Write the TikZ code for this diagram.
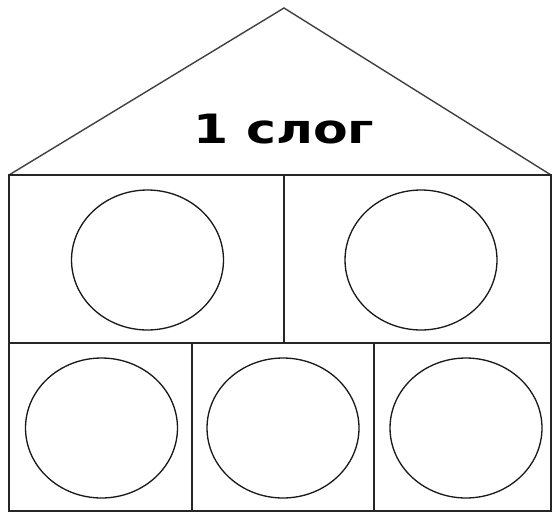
\documentclass[tikz,border=0pt]{standalone}
\usepackage{fontspec}
\usetikzlibrary{shapes.geometric}
\newfontfamily\slogfont[FakeStretch=1.25]{DejaVu Sans}

\begin{document}
\begin{tikzpicture}[x=0.02cm,y=-0.02cm,
    wall/.style={line width=1.1pt,black!85},
    roof/.style={line width=0.8pt,black!75},
    hole/.style={draw,ellipse,line width=0.75pt,black!90,inner sep=0pt,
      minimum width=3.04cm,minimum height=2.8cm}]
    \useasboundingbox (0,0) rectangle (553,513);

    \coordinate (top) at (284,8);
    \coordinate (nw) at (9,175);
    \coordinate (ne) at (551,175);
    \coordinate (mw) at (9,343);
    \coordinate (me) at (551,343);
    \coordinate (se) at (551,511);
    \coordinate (t1) at (284,175);
    \coordinate (t2) at (284,343);
    \coordinate (b1) at (192,343);
    \coordinate (b2) at (192,511);
    \coordinate (b3) at (374,343);
    \coordinate (b4) at (374,511);

    \node (title) at (284,129) {\slogfont\bfseries\fontsize{23}{23}\selectfont 1 слог};

    \node[hole] (h1) at (147.5,260) {};
    \node[hole] (h2) at (421,260) {};
    \node[hole] (h3) at (101.5,428) {};
    \node[hole] (h4) at (283,428) {};
    \node[hole] (h5) at (466,428) {};

    \draw[roof] (nw) -- (top) -- (ne);
    \draw[wall] (nw) rectangle (se);
    \draw[wall] (mw) -- (me);
    \draw[wall] (t1) -- (t2);
    \draw[wall] (b1) -- (b2);
    \draw[wall] (b3) -- (b4);
  \end{tikzpicture}
\end{document}
